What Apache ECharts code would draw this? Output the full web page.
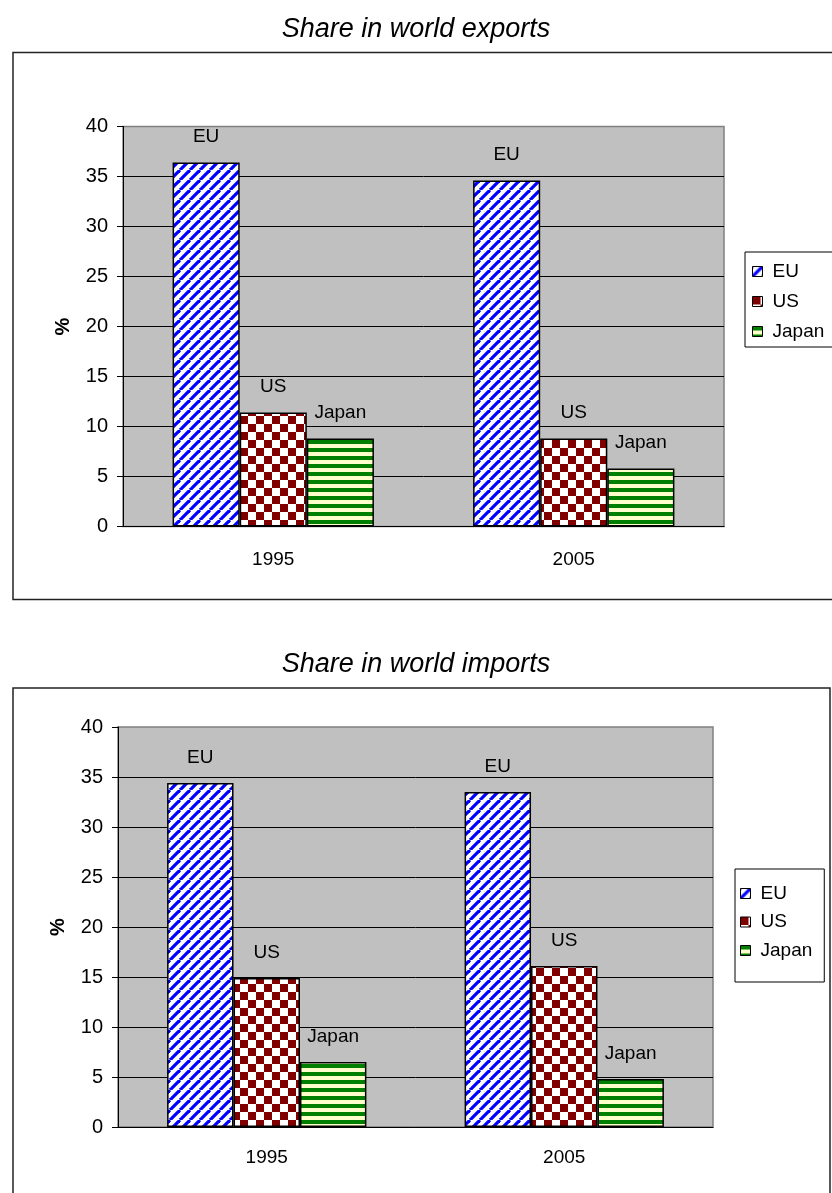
<!DOCTYPE html>
<html>
<head>
<meta charset="utf-8">
<script src="https://cdn.jsdelivr.net/npm/echarts@6/dist/echarts.min.js"></script>
<style>
  html, body { margin: 0; padding: 0; background: #fff; }
  #main { width: 832px; height: 1193px; }
</style>
</head>
<body>
<div id="main"></div>
<script>
const categories = ['1995', '2005'];
const seriesNames = ['EU', 'US', 'Japan'];
const exportsEU = [36.4, 34.6];
const exportsUS = [11.4, 8.8];
const exportsJapan = [8.8, 5.8];
const importsEU = [34.4, 33.5];
const importsUS = [14.9, 16.1];
const importsJapan = [6.5, 4.8];

const font = 'Liberation Sans, Arial, sans-serif';

// fill patterns like the old excel ones
function tile(size, draw) {
    const c = document.createElement('canvas');
    c.width = size; c.height = size;
    draw(c.getContext('2d'), size);
    return { image: c, repeat: 'repeat' };
}
const diagBlue = tile(10, (ctx, s) => {
    ctx.fillStyle = '#fff';
    ctx.fillRect(0, 0, s, s);
    ctx.strokeStyle = '#0000ff';
    ctx.lineWidth = 3.2;
    for (let k = -1; k <= 1; k++) {
        ctx.beginPath();
        ctx.moveTo(k * s, s);
        ctx.lineTo(k * s + s, 0);
        ctx.stroke();
    }
});
const checkRed = tile(16, (ctx, s) => {
    ctx.fillStyle = '#fff';
    ctx.fillRect(0, 0, s, s);
    ctx.fillStyle = '#800000';
    ctx.fillRect(0, 0, 8, 8);
    ctx.fillRect(8, 8, 8, 8);
});
const stripeGreen = tile(8, (ctx, s) => {
    ctx.fillStyle = '#ffffcc';
    ctx.fillRect(0, 0, s, s);
    ctx.fillStyle = '#008000';
    ctx.fillRect(0, 0, s, 4);
});
const fills = [diagBlue, checkRed, stripeGreen];

function makeSeries(values, idx) {
    return values.map((vals, i) => ({
        name: seriesNames[i],
        type: 'bar',
        xAxisIndex: idx,
        yAxisIndex: idx,
        data: vals,
        barGap: '0%',
        barCategoryGap: '33%',
        itemStyle: { color: fills[i], borderColor: '#000', borderWidth: 1.5 },
        label: {
            show: true,
            position: 'top',
            distance: 16,
            formatter: '{a}',
            color: '#000',
            fontFamily: font,
            fontSize: 19
        },
        emphasis: { disabled: true }
    }));
}

function xAxis(idx, margin) {
    return {
        type: 'category',
        gridIndex: idx,
        data: categories,
        axisLine: { lineStyle: { color: '#000', width: 1 } },
        axisTick: { length: 6, lineStyle: { color: '#000' } },
        axisLabel: { color: '#000', fontFamily: font, fontSize: 19, margin: margin }
    };
}
function yAxis(idx) {
    return {
        type: 'value',
        gridIndex: idx,
        min: 0, max: 40, interval: 5,
        name: '%',
        nameLocation: 'middle',
        nameGap: 50,
        nameRotate: 90,
        nameTextStyle: { color: '#000', fontFamily: font, fontSize: 20, fontWeight: 'bold' },
        axisLine: { show: true, lineStyle: { color: '#000', width: 1 } },
        axisTick: { show: true, length: 6, lineStyle: { color: '#000' } },
        axisLabel: { color: '#000', fontFamily: font, fontSize: 20, margin: 15 },
        splitLine: { show: true, showMaxLine: false, lineStyle: { color: '#000', width: 1 } }
    };
}

function legend(left, top, padding, gap) {
    return {
        orient: 'vertical',
        left: left, top: top,
        data: seriesNames,
        icon: 'rect',
        padding: padding,
        itemGap: gap,
        itemWidth: 10, itemHeight: 10,
        itemStyle: { borderColor: '#000', borderWidth: 1 },
        borderColor: '#000', borderWidth: 1,
        backgroundColor: '#fff',
        selectedMode: false,
        textStyle: { color: '#000', fontFamily: font, fontSize: 19, padding: [0, 0, 0, 5] }
    };
}

const chart = echarts.init(document.getElementById('main'));
chart.setOption({
    animation: false,
    backgroundColor: '#fff',
    title: [
        { text: 'Share in world exports', left: 'center', top: 16, padding: 0,
          textStyle: { fontFamily: font, fontSize: 27, fontStyle: 'italic', fontWeight: 'normal', color: '#000' } },
        { text: 'Share in world imports', left: 'center', top: 651, padding: 0,
          textStyle: { fontFamily: font, fontSize: 27, fontStyle: 'italic', fontWeight: 'normal', color: '#000' } }
    ],
    graphic: [
        { type: 'rect', shape: { x: 13, y: 52.5, width: 840, height: 547 },
          style: { fill: 'none', stroke: '#222', lineWidth: 1.5 }, z: -1 },
        { type: 'rect', shape: { x: 13, y: 688, width: 817, height: 540 },
          style: { fill: 'none', stroke: '#222', lineWidth: 1.5 }, z: -1 }
    ],
    legend: [
        legend(745, 252, [10, 10, 6, 7], 11),
        legend(735, 869, [15, 12, 22, 5], 9.5)
    ],
    grid: [
        { left: 123, width: 601, top: 126.5, height: 400, show: true,
          backgroundColor: '#c0c0c0', borderColor: '#808080', borderWidth: 1.5 },
        { left: 118, width: 595, top: 727, height: 400, show: true,
          backgroundColor: '#c0c0c0', borderColor: '#808080', borderWidth: 1.5 }
    ],
    xAxis: [xAxis(0, 24), xAxis(1, 21)],
    yAxis: [yAxis(0), yAxis(1)],
    series: [
        ...makeSeries([exportsEU, exportsUS, exportsJapan], 0),
        ...makeSeries([importsEU, importsUS, importsJapan], 1)
    ]
});
</script>
</body>
</html>
